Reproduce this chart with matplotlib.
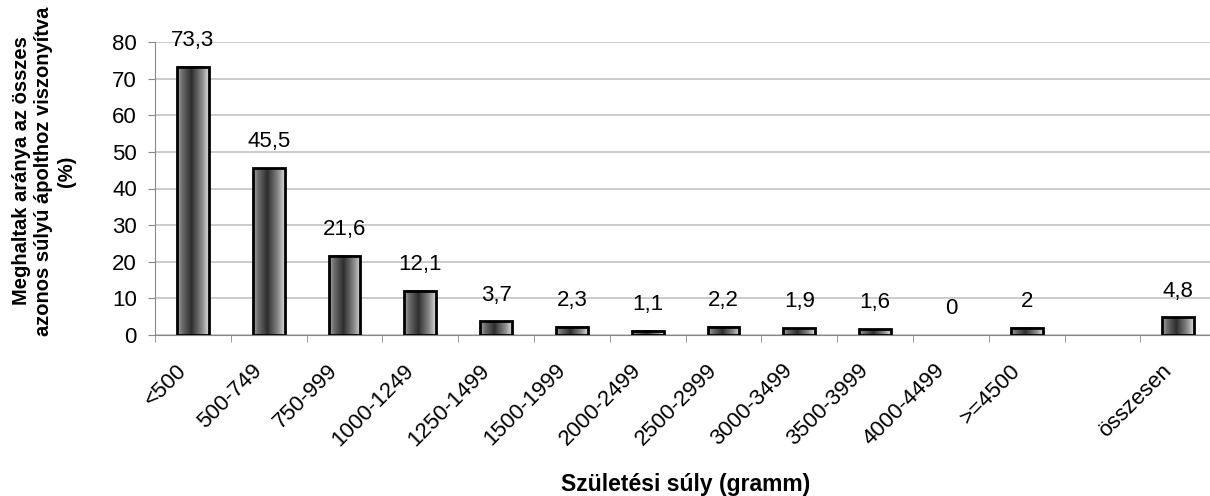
import matplotlib
matplotlib.use('Agg')
import matplotlib.pyplot as plt
import matplotlib.transforms as mtransforms
import numpy as np
from matplotlib.colors import LinearSegmentedColormap

plt.rcParams['font.family'] = ['Liberation Sans', 'DejaVu Sans']

# adatok
kategoriak = ['<500', '500-749', '750-999', '1000-1249', '1250-1499', '1500-1999',
              '2000-2499', '2500-2999', '3000-3499', '3500-3999', '4000-4499',
              '>=4500', '', 'összesen']
ertekek = [73.3, 45.5, 21.6, 12.1, 3.7, 2.3, 1.1, 2.2, 1.9, 1.6, 0, 2, None, 4.8]

fig = plt.figure(figsize=(12.10, 4.96), dpi=100)
W, H = 1210, 496
slot = 75.8
n = len(kategoriak)
ax = fig.add_axes([155/W, 1-335/H, n*slot/W, 293/H])

# gradiens a oszlopokhoz
cmap = LinearSegmentedColormap.from_list('henger', [(0, '#a8a8a8'), (0.15, '#6e6e6e'), (0.45, '#2e2e2e'),
                                                    (0.8, '#8c8c8c'), (1, '#d8d8d8')])
grad = np.linspace(0, 1, 64).reshape(1, -1)
szel = 0.42

x = np.arange(n)
for i, v in enumerate(ertekek):
    if v is None:
        continue
    if v > 0:
        ax.imshow(grad, cmap=cmap, aspect='auto', extent=(i-szel/2, i+szel/2, 0, v), zorder=2)
        ax.bar(i, v, width=szel, fill=False, edgecolor='black', linewidth=2, zorder=3)
    felirat = f"{v:g}".replace('.', ',')
    ax.annotate(felirat, (i, v), xytext=(0, 19), textcoords='offset points',
                ha='center', va='center', fontsize=16, annotation_clip=False)

ax.set_xlim(-0.5, n-0.5)
ax.set_ylim(0, 80)
ax.set_yticks(range(0, 81, 10))
ax.tick_params(axis='y', labelsize=16, length=5, color='#888888', direction='out', pad=8)
ax.yaxis.grid(True, color='#c4c4c4', linewidth=1.2)
ax.set_axisbelow(True)

ax.set_xticks(x)
ax.set_xticklabels(kategoriak, rotation=45, ha='right', rotation_mode='anchor', fontsize=16)
ax.set_xticks(np.arange(-0.5, n, 1), minor=True)
ax.tick_params(axis='x', which='major', length=0, pad=18)
ax.tick_params(axis='x', which='minor', length=5, color='#888888', direction='out')
eltolas = mtransforms.ScaledTranslation(-17/100, 0, fig.dpi_scale_trans)
for lab in ax.get_xticklabels():
    lab.set_transform(lab.get_transform() + eltolas)

for s in ['top', 'right']:
    ax.spines[s].set_visible(False)
for s in ['left', 'bottom']:
    ax.spines[s].set_color('#888888')

fig.text(44/W, 1-171/H, 'Meghaltak aránya az összes\nazonos súlyú ápolthoz viszonyítva\n(%)',
         rotation=90, ha='center', va='center', multialignment='center',
         fontsize=14.5, fontweight='bold', linespacing=1.25)
fig.text((155 + n*slot/2)/W, 1-485/H, 'Születési súly (gramm)', ha='center', va='center',
         fontsize=16.5, fontweight='bold')

fig.savefig('out.png', dpi=100)
